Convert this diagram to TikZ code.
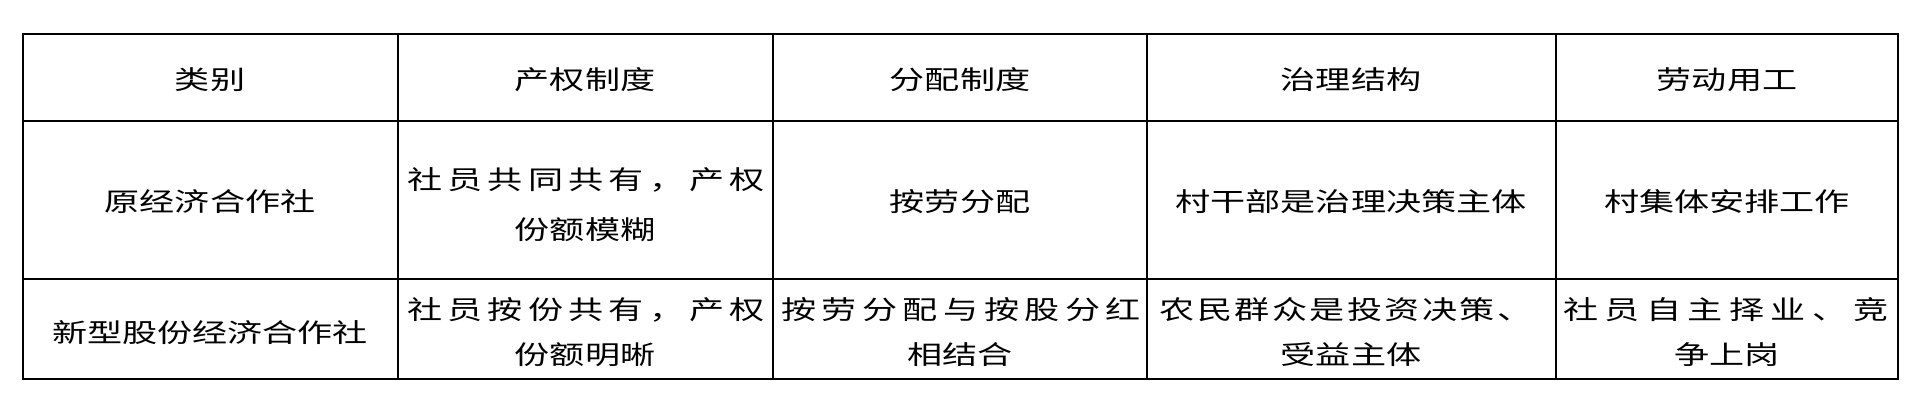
\documentclass[tikz,border=0pt]{standalone}
\usepackage{fontspec}
\setmainfont{Noto Sans CJK SC}
\usepackage{graphicx}
\newcommand\Cz[1]{\scalebox{1.35}[1]{#1}}
\newcommand\Jl[2]{\makebox[#1][s]{#2}}
\begin{document}
\begin{tikzpicture}[x=1pt,y=-1pt,
  tx/.style={inner sep=0pt,anchor=center,font=\fontsize{26}{28}\selectfont},
  rule/.style={line width=2.6pt}]
\useasboundingbox (0,0) rectangle (1921,409);
\fill[white] (0,0) rectangle (1921,409);
% grid
\draw[rule] (23,34) rectangle (1898,379);
\foreach \y in {121,279} \draw[rule] (23,\y) -- (1898,\y);
\foreach \x in {398,773,1147,1556} \draw[rule] (\x,34) -- (\x,379);
% header
\node[tx] (h1) at (210,80) {\Cz{类别}};
\node[tx] (h2) at (585,80) {\Cz{产权制度}};
\node[tx] (h3) at (960,80) {\Cz{分配制度}};
\node[tx] (h4) at (1351,80) {\Cz{治理结构}};
\node[tx] (h5) at (1727,80) {\Cz{劳动用工}};
% row 1
\node[tx] (a1) at (210,202) {\Cz{原经济合作社}};
\node[tx] (a2) at (586,180) {\Jl{358pt}{\Cz{社}\hfill\Cz{员}\hfill\Cz{共}\hfill\Cz{同}\hfill\Cz{共}\hfill\Cz{有}\hfill\Cz{，}\hfill\Cz{产}\hfill\Cz{权}}};
\node[tx] (a2b) at (585,230) {\Cz{份额模糊}};
\node[tx] (a3) at (960,202) {\Cz{按劳分配}};
\node[tx] (a4) at (1351,202) {\Cz{村干部是治理决策主体}};
\node[tx] (a5) at (1727,202) {\Cz{村集体安排工作}};
% row 2
\node[tx] (b1) at (210,333) {\Cz{新型股份经济合作社}};
\node[tx] (b2) at (586,310) {\Jl{358pt}{\Cz{社}\hfill\Cz{员}\hfill\Cz{按}\hfill\Cz{份}\hfill\Cz{共}\hfill\Cz{有}\hfill\Cz{，}\hfill\Cz{产}\hfill\Cz{权}}};
\node[tx] (b2b) at (585,355) {\Cz{份额明晰}};
\node[tx] (b3) at (961,310) {\Jl{360pt}{\Cz{按}\hfill\Cz{劳}\hfill\Cz{分}\hfill\Cz{配}\hfill\Cz{与}\hfill\Cz{按}\hfill\Cz{股}\hfill\Cz{分}\hfill\Cz{红}}};
\node[tx] (b3b) at (960,355) {\Cz{相结合}};
\node[tx] (b4) at (1346,310) {\Jl{373pt}{\Cz{农}\hfill\Cz{民}\hfill\Cz{群}\hfill\Cz{众}\hfill\Cz{是}\hfill\Cz{投}\hfill\Cz{资}\hfill\Cz{决}\hfill\Cz{策}\hfill\Cz{、}}};
\node[tx] (b4b) at (1351,355) {\Cz{受益主体}};
\node[tx] (b5) at (1726,310) {\Jl{325pt}{\Cz{社}\hfill\Cz{员}\hfill\Cz{自}\hfill\Cz{主}\hfill\Cz{择}\hfill\Cz{业}\hfill\Cz{、}\hfill\Cz{竞}}};
\node[tx] (b5b) at (1727,355) {\Cz{争上岗}};
\end{tikzpicture}
\end{document}
